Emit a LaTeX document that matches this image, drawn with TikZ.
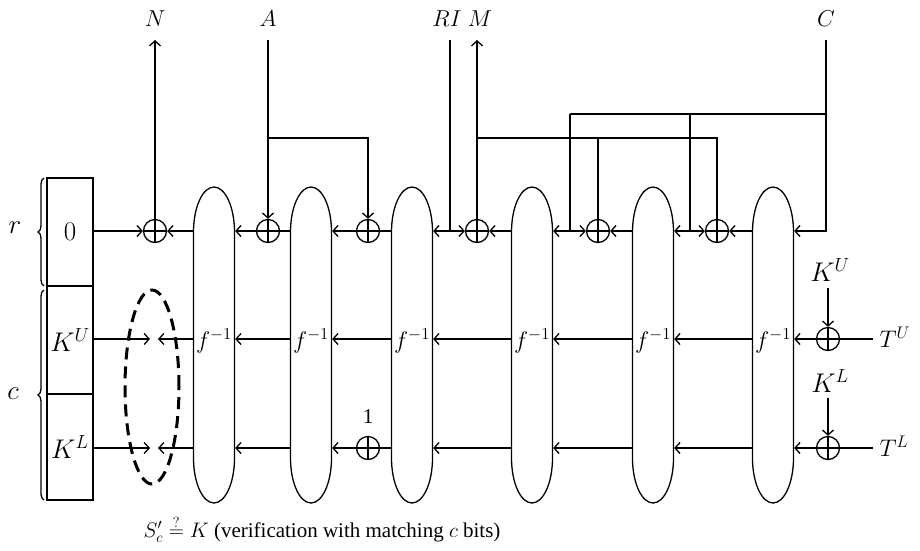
\RequirePackage{fix-cm}
\documentclass[tikz,border=0pt]{standalone}
\usepackage{fontspec}
\setmainfont{Liberation Serif}
\usetikzlibrary{arrows.meta,decorations.pathreplacing}
\begin{document}
\begin{tikzpicture}[x=1pt,y=-1pt,
  every path/.style={line width=1.3pt},
  arr/.style={-{Straight Barb[length=5pt,width=11pt,line width=1.3pt]}},
  xor/.style={circle,draw,line width=1.3pt,minimum size=23pt,inner sep=0pt,
    path picture={\draw[line width=1.3pt] (path picture bounding box.north) -- (path picture bounding box.south)
      (path picture bounding box.west) -- (path picture bounding box.east);}},
  cell/.style={draw,line width=1.3pt,minimum width=46pt,inner sep=0pt,font=\fontsize{27}{31}\selectfont},
  fbox/.style={minimum width=41pt,minimum height=316pt,inner sep=0pt},
  toplbl/.style={font=\fontsize{23}{27}\selectfont,inner sep=0pt},
  klbl/.style={font=\fontsize{27}{31}\selectfont,inner sep=0pt},
  tlbl/.style={font=\fontsize{24}{28}\selectfont,inner sep=0pt},
  sidelbl/.style={font=\fontsize{27}{31}\selectfont,inner sep=0pt},
  flbl/.style={font=\fontsize{24}{28}\selectfont,inner sep=0pt},
  dashell/.style={line width=3pt,dash pattern=on 12pt off 7pt}]
\useasboundingbox (0,0) rectangle (920,550);

% register
\node[cell,minimum height=108pt] (B0) at (70,232) {$0$};
\node[cell,minimum height=108pt] (BU) at (70,340) {$K^U$};
\node[cell,minimum height=106pt] (BL) at (70,447) {$K^L$};
\draw[decorate,decoration={brace,amplitude=6pt}] (44,286) -- (44,178);
\draw[decorate,decoration={brace,amplitude=6pt}] (44,500) -- (44,290);
\node[sidelbl] (lr) at (15,228) {$r$};
\node[sidelbl] (lc) at (13,394) {$c$};

% f^{-1} blocks
\foreach \n/\cx in {1/214,2/311,3/412,4/532,5/653,6/773}{
  \node[fbox] (E\n) at (\cx,345) {};
  \draw (\cx-20.5,232) -- (\cx-20.5,458)
     arc[start angle=180,end angle=360,x radius=20.5pt,y radius=45pt]
     -- (\cx+20.5,232)
     arc[start angle=0,end angle=180,x radius=20.5pt,y radius=45pt] -- cycle;
  \node[flbl] (F\n) at (\cx,341) {$f^{-1}$};
}

% xors
\node[xor] (X1) at (155,231) {};
\node[xor] (X2) at (268,231) {};
\node[xor] (X3) at (368,231) {};
\node[xor] (X4) at (477,231) {};
\node[xor] (X5) at (598,231) {};
\node[xor] (X6) at (717,231) {};
\node[xor] (XB) at (368,448) {};
\node[xor] (XU) at (828,339) {};
\node[xor] (XL) at (828,448) {};

% top labels
\node[toplbl] (lN) at (155,19) {$N$};
\node[toplbl] (lA) at (268,19) {$A$};
\node[toplbl] (lRI) at (447,19) {$RI$};
\node[toplbl] (lM) at (480,19) {$M$};
\node[toplbl] (lC) at (826,19) {$C$};

\coordinate (Ntop) at (155,40);
\coordinate (Atop) at (268,40);
\coordinate (RItop) at (450,40);
\coordinate (Mtop) at (477,40);
\coordinate (Ctop) at (826,40);
\coordinate (RI) at (450,231);
\coordinate (P5) at (570,231);
\coordinate (P6) at (690,231);
\coordinate (P5t) at (570,114);
\coordinate (P6t) at (690,114);
\coordinate (Cm) at (826,114);
\coordinate (Cb) at (826,231);
\coordinate (Aj) at (268,138);
\coordinate (Aj2) at (368,138);
\coordinate (Mj) at (477,138);
\coordinate (Mj5) at (598,138);
\coordinate (Mj6) at (717,138);

% top row
\draw[arr] (B0.east |- X1) -- (X1.west);
\draw[arr] (E1.west |- X1) -- (X1.east);
\draw[arr] (X2.west) -- (E1.east |- X2);
\draw (E2.west |- X2) -- (X2.east);
\draw[arr] (X3.west) -- (E2.east |- X3);
\draw (E3.west |- X3) -- (X3.east);
\draw (RItop) -- (RI);
\draw[arr] (RI) -- (E3.east |- RI);
\draw[arr] (RI) -- (X4.west);
\draw[arr] (E4.west |- X4) -- (X4.east);
\draw (P5t) -- (P5);
\draw[arr] (P5) -- (E4.east |- P5);
\draw[arr] (P5) -- (X5.west);
\draw[arr] (E5.west |- X5) -- (X5.east);
\draw (P6t) -- (P6);
\draw[arr] (P6) -- (E5.east |- P6);
\draw[arr] (P6) -- (X6.west);
\draw[arr] (E6.west |- X6) -- (X6.east);
\draw[arr] (Ctop) -- (Cb) -- (E6.east |- Cb);
\draw (P5t) -- (Cm);

\draw[arr] (X1.north) -- (Ntop);
\draw[arr] (Atop) -- (X2.north);
\draw[arr] (Aj) -- (Aj2) -- (X3.north);
\draw[arr] (X4.north) -- (Mtop);
\draw (Mj) -- (Mj6) -- (X6.north);
\draw (Mj5) -- (X5.north);

% middle row
\coordinate (GU1) at (150,339);
\coordinate (GU2) at (158,339);
\draw[arr] (BU.east |- GU1) -- (GU1);
\draw[arr] (E1.west |- GU2) -- (GU2);
\draw[arr] (E2.west |- XU) -- (E1.east |- XU);
\draw[arr] (E3.west |- XU) -- (E2.east |- XU);
\draw[arr] (E4.west |- XU) -- (E3.east |- XU);
\draw[arr] (E5.west |- XU) -- (E4.east |- XU);
\draw[arr] (E6.west |- XU) -- (E5.east |- XU);
\draw[arr] (XU.west) -- (E6.east |- XU);
\coordinate (TUend) at (873,339);
\draw (TUend) -- (XU.east);
\node[tlbl,anchor=west] (lTU) at (879,337) {$T^U$};
\node[klbl] (lKU) at (830,270) {$K^U$};
\coordinate (KUa) at (828,288);
\draw[arr] (KUa) -- (XU.north);

% bottom row
\coordinate (GL1) at (150,448);
\coordinate (GL2) at (158,448);
\draw[arr] (BL.east |- GL1) -- (GL1);
\draw[arr] (E1.west |- GL2) -- (GL2);
\draw[arr] (E2.west |- XL) -- (E1.east |- XL);
\draw[arr] (XB.west) -- (E2.east |- XB);
\draw (E3.west |- XB) -- (XB.east);
\node[font=\fontsize{21}{25}\selectfont,inner sep=0pt] (l1) at (368,417) {1};
\draw[arr] (E4.west |- XL) -- (E3.east |- XL);
\draw[arr] (E5.west |- XL) -- (E4.east |- XL);
\draw[arr] (E6.west |- XL) -- (E5.east |- XL);
\draw[arr] (XL.west) -- (E6.east |- XL);
\coordinate (TLend) at (873,448);
\draw (TLend) -- (XL.east);
\node[tlbl,anchor=west] (lTL) at (879,446) {$T^L$};
\node[klbl] (lKL) at (830,381) {$K^L$};
\coordinate (KLa) at (828,398);
\draw[arr] (KLa) -- (XL.north);

% dashed ellipse
\draw[dashell] (152,387) ellipse[x radius=27pt,y radius=97pt];

% caption
\node[font=\fontsize{21}{25}\selectfont,inner sep=0pt,anchor=base west] (cap) at (143,537)
  {$S'_c \stackrel{?}{=} K$ (verification with matching $c$ bits)};
\end{tikzpicture}
\end{document}
